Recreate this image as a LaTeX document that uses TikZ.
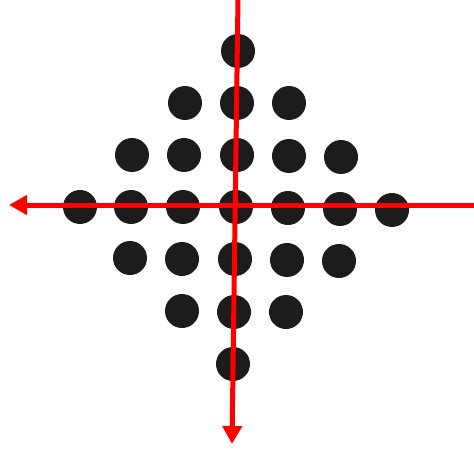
\documentclass[tikz,border=0pt]{standalone}
\usetikzlibrary{arrows.meta}
\definecolor{dotc}{HTML}{1C1C1C}
\definecolor{axisred}{HTML}{FF0000}
\begin{document}
\begin{tikzpicture}[x=1pt,y=-1pt,
  dot/.style={circle,fill=dotc,inner sep=0pt,minimum size=34pt},
  axis/.style={draw=axisred,line width=5pt,-{Triangle[length=18pt,width=19pt]}}]
\path[fill=white] (0,0) rectangle (474,452);
\useasboundingbox (0,0) rectangle (474,452);
% row 1
\node[dot] (d11) at (238,51) {};
% row 2
\node[dot] (d21) at (185,103) {};
\node[dot] (d22) at (237,103) {};
\node[dot] (d23) at (289,103) {};
% row 3
\node[dot] (d31) at (132,155) {};
\node[dot] (d32) at (184,155) {};
\node[dot] (d33) at (237,155) {};
\node[dot] (d34) at (289,156) {};
\node[dot] (d35) at (341,157) {};
% row 4
\node[dot] (d41) at (80,207) {};
\node[dot] (d42) at (131,207) {};
\node[dot] (d43) at (183,207) {};
\node[dot] (d44) at (236,207) {};
\node[dot] (d45) at (288,208) {};
\node[dot] (d46) at (340,209) {};
\node[dot] (d47) at (392,210) {};
% row 5
\node[dot] (d51) at (130,258) {};
\node[dot] (d52) at (182,259) {};
\node[dot] (d53) at (235,259) {};
\node[dot] (d54) at (287,260) {};
\node[dot] (d55) at (339,261) {};
% row 6
\node[dot] (d61) at (182,311) {};
\node[dot] (d62) at (234,312) {};
\node[dot] (d63) at (286,312) {};
% row 7
\node[dot] (d71) at (233,364) {};
% axes
\coordinate (hstart) at (474,205);
\coordinate (hend) at (9,205);
\coordinate (vstart) at (238,-2);
\coordinate (vend) at (232,444);
\draw[axis] (hstart) -- (hend);
\draw[axis] (vstart) -- (vend);
\end{tikzpicture}
\end{document}
